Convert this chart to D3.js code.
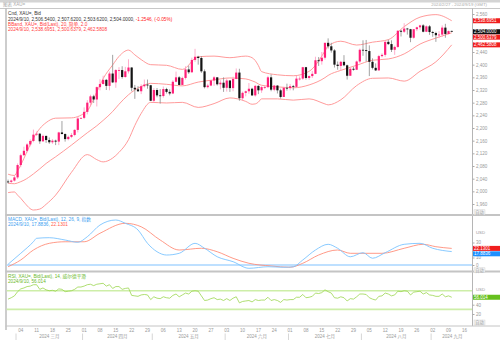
<!DOCTYPE html>
<html><head><meta charset="utf-8">
<script src="https://cdn.jsdelivr.net/npm/d3@7"></script>
<style>
body{margin:0;background:#fff;}
svg{display:block;font-family:"Liberation Sans",Arial,"Noto Sans CJK SC",sans-serif;}
</style></head><body>
<svg id="c" width="500" height="340"></svg>
<script>
// ---------- data ----------
const openP = [2031,2030,2034,2044,2083,2114,2128,2148,2159,2179,2182,2158,2175,2162,2155,2160,2157,2186,2181,2165,2172,2178,2194,2230,2232,2251,2280,2300,2290,2329,2339,2352,2333,2372,2344,2383,2383,2361,2379,2391,2327,2322,2316,2332,2337,2335,2286,2320,2303,2301,2323,2314,2309,2346,2360,2336,2358,2385,2376,2415,2425,2421,2379,2329,2334,2350,2360,2338,2343,2327,2350,2326,2355,2375,2294,2311,2316,2324,2303,2333,2319,2329,2329,2360,2321,2334,2319,2298,2327,2326,2332,2330,2356,2356,2392,2358,2364,2371,2414,2411,2422,2469,2458,2445,2400,2396,2409,2398,2365,2387,2384,2410,2447,2446,2443,2409,2390,2382,2427,2431,2472,2465,2447,2456,2507,2504,2514,2512,2485,2512,2518,2524,2504,2521,2503,2500,2493,2495,2517,2497,2506.54];
const highP = [2037,2037,2052,2088,2119,2141,2152,2164,2195,2189,2184,2179,2176,2170,2165,2163,2188,2222,2183,2176,2184,2196,2236,2233,2265,2288,2305,2305,2331,2354,2365,2355,2378,2431,2386,2392,2395,2393,2417,2392,2336,2332,2338,2353,2353,2336,2326,2326,2323,2331,2327,2322,2351,2378,2364,2362,2395,2397,2422,2450,2428,2427,2385,2340,2351,2364,2360,2351,2360,2355,2351,2362,2388,2387,2315,2318,2342,2327,2336,2335,2332,2334,2365,2369,2336,2335,2324,2330,2340,2339,2336,2365,2363,2393,2393,2366,2380,2425,2424,2440,2469,2483,2469,2449,2410,2412,2430,2400,2390,2393,2413,2451,2477,2478,2461,2420,2404,2431,2436,2474,2479,2477,2460,2509,2510,2531,2516,2513,2512,2520,2526,2528,2524,2525,2507,2504,2506,2524,2529,2508,2507.62];
const lowP = [2025,2025,2031,2039,2076,2113,2123,2142,2155,2175,2150,2156,2153,2150,2150,2146,2146,2180,2157,2161,2168,2174,2186,2229,2228,2243,2269,2279,2268,2319,2337,2320,2319,2342,2327,2355,2356,2359,2372,2316,2292,2314,2307,2328,2324,2285,2280,2297,2277,2296,2309,2303,2307,2344,2335,2335,2353,2371,2374,2409,2400,2374,2325,2325,2332,2333,2334,2322,2314,2315,2314,2316,2354,2286,2287,2300,2308,2301,2299,2307,2311,2323,2326,2316,2316,2309,2293,2298,2318,2319,2319,2327,2350,2352,2353,2352,2358,2370,2396,2400,2416,2451,2438,2391,2384,2383,2395,2353,2365,2381,2383,2405,2428,2410,2364,2385,2380,2381,2423,2425,2462,2440,2431,2453,2489,2500,2495,2471,2482,2506,2510,2502,2503,2494,2488,2472,2484,2488,2485,2496,2503.62];
const closeP = [2030,2034,2044,2083,2114,2128,2148,2159,2179,2182,2158,2175,2162,2155,2160,2157,2186,2181,2165,2172,2178,2194,2230,2232,2251,2280,2300,2290,2329,2339,2352,2333,2372,2344,2383,2383,2361,2379,2391,2327,2322,2316,2332,2337,2335,2286,2320,2303,2301,2323,2314,2309,2346,2360,2336,2358,2385,2376,2415,2425,2421,2379,2329,2334,2350,2360,2338,2343,2327,2350,2326,2355,2375,2294,2311,2316,2324,2303,2333,2319,2329,2329,2360,2321,2334,2319,2298,2327,2326,2332,2330,2356,2356,2392,2358,2364,2371,2414,2411,2422,2469,2458,2445,2400,2396,2409,2398,2365,2387,2384,2410,2447,2446,2443,2409,2390,2382,2427,2431,2472,2465,2447,2456,2507,2504,2514,2512,2485,2512,2518,2524,2504,2521,2503,2500,2493,2495,2517,2497,2506,2504.00];

// Bollinger band (20, 2) values read at sample trading days
const bbDay   = [0,2,3,4,5,8,10,12,15,20,25,28,30,33,35,38,40,42,45,50,55,60,65,70,75,77,78,79,80,85,90,95,100,101,105,110,115,120,125,130,135,140];
const bbUpper = [2054,2050,2065,2083,2104,2168,2198,2217,2231,2232,2255,2314,2356,2399,2426,2446,2431,2416,2400,2398,2385,2425,2427,2422,2427,2422,2413,2397,2378,2368,2365,2379,2443,2459,2474,2462,2471,2479,2520,2550,2558,2538.6951];
const bbMid   = [2025.6,2024,2026.5,2030.5,2035,2055,2071,2088,2109,2146,2185,2207,2224,2252,2275,2305,2320,2331,2341,2338,2333,2345,2352,2358,2355,2349,2345,2339,2335,2330,2327,2336,2359,2366,2382,2398,2414,2418,2434,2465,2484,2500.6379];
const bbLower = [1996,1998,1988,1978,1966,1941,1944,1959,1988,2060,2116,2100,2093,2105,2123,2163,2208,2246,2281,2279,2281,2265,2277,2295,2284,2275,2276,2282,2292,2292,2288,2292,2276,2273,2289,2334,2357,2358,2348,2379,2409,2462.5808];

// MACD (12,26,9)
const macdDay  = [0,4,8,9,13,18,22,25,29,34,37,41,44,47,50,54,59,62,66,71,76,82,87,90,93,97,101,104,108,112,115,119,125,130,134,140];
const macdLine = [1,15.6,31,35.6,36.4,33.3,30.3,37.7,53.3,60,55.6,46.7,28.9,17.7,13.3,15.6,28.9,22.3,11,4.4,-4.4,-2.3,-3,-2.3,6.7,20,27.6,22.3,11,16.4,9,16.4,27.6,28.9,22.3,17.8836];
const sigDay   = [0,4,8,13,18,24,29,37,42,48,54,61,66,71,76,83,89,93,98,104,108,112,118,125,131,135,140];
const sigLine  = [-2.3,6.7,20,28.9,31,31,42.3,55.6,51,33.3,20,22.3,17.7,8.9,2.3,-1.3,-3,2.3,13.3,20,15.6,15.6,15.6,22.3,27.6,24.4,22.1301];

// RSI (14), one per trading day
const rsiVals = [52,55,59,68,74,76,79,80,83,83,73,76,72,70,71,69,74,73,68,69,70,73,78,78,80,83,84,81,84,85,86,80,83,75,79,79,73,75,76,60,59,58,61,62,61,51,57,54,53,57,55,54,60,63,57,61,65,63,69,70,69,59,49,50,53,55,51,52,49,53,49,54,57,44,47,48,49,46,51,49,50,50,56,49,51,49,45,51,50,51,51,56,56,62,55,56,58,65,64,66,72,68,65,55,54,57,55,48,53,52,57,63,63,62,55,52,50,58,59,65,63,59,61,69,68,70,69,61,67,68,69,63,66,61,60,58,58,63,57,59,56.014];

const priceTicks = [1960,2000,2040,2080,2120,2160,2200,2240,2280,2320,2360,2400,2440,2560];
const macdTicks = [0,10,30];
const rsiTicks = [20,40];
const monthNames = ["2024 三月","2024 四月","2024 五月","2024 六月","2024 七月","2024 八月","2024 九月"];

// ---------- layout ----------
const svg = d3.select("#c");
const L = 6.5, R = 472;
const nDays = 148;
const days = [];
{ let d = new Date(2024,1,27); while (days.length < nDays) { const w = d.getDay(); if (w!==0 && w!==6) days.push(new Date(d)); d.setDate(d.getDate()+1); } }

const x = d3.scaleLinear().domain([-0.5, 146.4]).range([L, R]);
const yP = d3.scaleLinear().domain([1960, 2440]).range([204, 52]);
const yM = d3.scaleLinear().domain([0, 60]).range([265, 220]);
const yR = d3.scaleLinear().domain([0, 100]).range([323.3, 276.8]);

const panels = [[9.5,215],[215,271.5],[271.5,326]];
const defs = svg.append("defs");
panels.forEach((p,i)=>defs.append("clipPath").attr("id","cp"+i).append("rect").attr("x",L).attr("y",p[0]).attr("width",R-L).attr("height",p[1]-p[0]));

// frame / background
svg.append("rect").attr("width",500).attr("height",340).attr("fill","#fff");
svg.append("rect").attr("x",0).attr("y",0).attr("width",500).attr("height",2.5).attr("fill","#d4d4d4");
svg.append("text").attr("x",3).attr("y",6).attr("font-size",4.5).attr("fill","#aaa").text("图表 XAU=");
svg.append("text").attr("x",487).attr("y",6.3).attr("text-anchor","end").attr("font-size",4.3).attr("fill","#aaa").text("2024/2/27 - 2024/9/19 (GMT)");
svg.append("line").attr("x1",0).attr("x2",500).attr("y1",8.5).attr("y2",8.5).attr("stroke","#c8c8c8").attr("stroke-width",1);
svg.append("line").attr("x1",L-0.5).attr("x2",L-0.5).attr("y1",8.5).attr("y2",330).attr("stroke","#bdbdbd").attr("stroke-width",1.5);
svg.append("line").attr("x1",R+0.5).attr("x2",R+0.5).attr("y1",8.5).attr("y2",326).attr("stroke","#b5b5b5").attr("stroke-width",1);
[215,271.5].forEach(yy=>svg.append("line").attr("x1",L-1).attr("x2",500).attr("y1",yy).attr("y2",yy).attr("stroke","#c4c4c4").attr("stroke-width",1.8));
svg.append("line").attr("x1",L-1).attr("x2",500).attr("y1",326).attr("y2",326).attr("stroke","#c4c4c4").attr("stroke-width",1);

// ---------- main panel ----------
const gMain = svg.append("g").attr("clip-path","url(#cp0)");
const bandColor = "#ff8f8f";
const bandLine = (arr)=> d3.line().x((d,i)=>x(bbDay[i])).y(d=>yP(d)).curve(d3.curveMonotoneX)(arr);
[bbUpper,bbMid,bbLower].forEach(a=>gMain.append("path").attr("d",bandLine(a)).attr("fill","none").attr("stroke",bandColor).attr("stroke-width",0.9));

const upCol = "#ff1f78", upWick = "#ff99c0", dnCol = "#141414", dnWick = "#8a8a8a";
closeP.forEach((c,i)=>{
  const o = openP[i], up = c >= o;
  gMain.append("line").attr("x1",x(i)).attr("x2",x(i)).attr("y1",yP(highP[i])).attr("y2",yP(lowP[i]))
    .attr("stroke", up?upWick:dnWick).attr("stroke-width",0.8);
  const yt = yP(Math.max(o,c)), yb = yP(Math.min(o,c));
  gMain.append("rect").attr("x",x(i)-1.1).attr("width",2.2).attr("y",yt).attr("height",Math.max(0.8,yb-yt))
    .attr("fill", up?upCol:dnCol);
});

// legend main
const leg = svg.append("g").attr("font-size",4.7);
leg.append("text").attr("x",8).attr("y",15).attr("fill","#333").text("Cnd, XAU=, Bid");
const l2 = leg.append("text").attr("x",8).attr("y",20.5).attr("fill","#333");
l2.append("tspan").text("2024/9/10, 2,506.5400, 2,507.6200, 2,503.6200, 2,504.0000, ");
l2.append("tspan").attr("fill","#ff2020").text("-1.2546, (-0.05%)");
leg.append("text").attr("x",8).attr("y",26).attr("fill","#ff3b3b").text("BBand, XAU=, Bid(Last), 20, 简单, 2.0");
leg.append("text").attr("x",8).attr("y",31.3).attr("fill","#ff3b3b").text("2024/9/10, 2,538.6951, 2,500.6379, 2,462.5808");

// right axis main
const axG = svg.append("g").attr("transform",`translate(${R+0.5},0)`)
  .call(d3.axisRight(yP).tickValues(priceTicks).tickSize(2).tickPadding(1.5).tickFormat(d3.format(",")));
axG.select(".domain").remove();
axG.selectAll("line").attr("stroke","#aaa");
axG.selectAll("text").attr("font-size",4.5).attr("fill","#999").attr("font-family","Liberation Sans, Arial");

// value boxes
function boxes(items){
  items.sort((a,b)=>a.y-b.y);
  for(let i=1;i<items.length;i++) if(items[i].y - items[i-1].y < 5.4) items[i].y = items[i-1].y + 5.4;
  items.forEach(it=>{
    svg.append("rect").attr("x",R+1).attr("y",it.y-2.5).attr("width",27).attr("height",5).attr("fill",it.bg);
    svg.append("text").attr("x",R+2).attr("y",it.y+1.6).attr("font-size",4.5).attr("fill",it.fg||"#fff").text(it.t);
  });
}
boxes([
  {y:yP(2538.6951),bg:"#f01e1e",t:"2,538.6951"},
  {y:yP(2504),bg:"#111",t:"2,504.0000"},
  {y:yP(2500.6379),bg:"#f01e1e",t:"2,500.6379"},
  {y:yP(2462.5808),bg:"#f01e1e",t:"2,462.5808"}
]);

// ---------- MACD panel ----------
const gM = svg.append("g").attr("clip-path","url(#cp1)");
gM.append("line").attr("x1",L).attr("x2",R).attr("y1",yM(0)).attr("y2",yM(0)).attr("stroke","#a9d6ff").attr("stroke-width",1.6);
gM.append("path").attr("d",d3.line().x((d,i)=>x(sigDay[i])).y(d=>yM(d)).curve(d3.curveMonotoneX)(sigLine))
  .attr("fill","none").attr("stroke","#ff8f7a").attr("stroke-width",0.9);
gM.append("path").attr("d",d3.line().x((d,i)=>x(macdDay[i])).y(d=>yM(d)).curve(d3.curveMonotoneX)(macdLine))
  .attr("fill","none").attr("stroke","#7cc4ff").attr("stroke-width",0.9);
const lm = svg.append("g").attr("font-size",4.7);
lm.append("text").attr("x",8).attr("y",220.8).attr("fill","#3ba0f0").text("MACD, XAU=, Bid(Last), 12, 26, 9, 指数");
const lm2 = lm.append("text").attr("x",8).attr("y",226.2).attr("fill","#3ba0f0");
lm2.append("tspan").text("2024/9/10, 17.8836, ");
lm2.append("tspan").attr("fill","#ff5a4a").text("22.1301");
const axM = svg.append("g").attr("transform",`translate(${R+0.5},0)`)
  .call(d3.axisRight(yM).tickValues(macdTicks).tickSize(2).tickPadding(1.5));
axM.select(".domain").remove();
axM.selectAll("line").attr("stroke","#aaa");
axM.selectAll("text").attr("font-size",4.5).attr("fill","#999");
svg.append("text").attr("x",476).attr("y",234.3).attr("font-size",4.3).attr("fill","#999").text("USD");
boxes([{y:yM(22.1301),bg:"#f01e1e",t:"22.1301"},{y:yM(17.8836),bg:"#1e90ff",t:"17.8836"}]);

// ---------- RSI panel ----------
const gR = svg.append("g").attr("clip-path","url(#cp2)");
[70,30].forEach(v=>gR.append("line").attr("x1",L).attr("x2",R).attr("y1",yR(v)).attr("y2",yR(v)).attr("stroke","#cdeea8").attr("stroke-width",1.6));
gR.append("path").attr("d",d3.line().x((d,i)=>x(i)).y(d=>yR(d))(rsiVals))
  .attr("fill","none").attr("stroke","#9ad64e").attr("stroke-width",0.8);
const lr = svg.append("g").attr("font-size",4.7).attr("fill","#6ab82a");
lr.append("text").attr("x",8).attr("y",277.5).text("RSI, XAU=, Bid(Last), 14, 威尔德平滑");
lr.append("text").attr("x",8).attr("y",282.9).text("2024/9/10, 56.014");
const axR = svg.append("g").attr("transform",`translate(${R+0.5},0)`)
  .call(d3.axisRight(yR).tickValues(rsiTicks).tickSize(2).tickPadding(1.5));
axR.select(".domain").remove();
axR.selectAll("line").attr("stroke","#aaa");
axR.selectAll("text").attr("font-size",4.5).attr("fill","#999");
svg.append("text").attr("x",476).attr("y",290.8).attr("font-size",4.3).attr("fill","#999").text("USD");
boxes([{y:yR(56.014),bg:"#66c01e",t:"56.014"}]);

// auto buttons
[212.3,270.3,322.5].forEach(yy=>{
  svg.append("rect").attr("x",474).attr("y",yy-2.5).attr("width",11).attr("height",5).attr("fill","#f2f2f2").attr("stroke","#ccc").attr("stroke-width",0.4);
  svg.append("text").attr("x",479.5).attr("y",yy+1.6).attr("text-anchor","middle").attr("font-size",4.2).attr("fill","#999").text("自动");
});

// ---------- x axis ----------
const xa = svg.append("g").attr("font-size",4.5).attr("fill","#999");
days.forEach((d,i)=>{
  if (d.getDay()===1 && x(i) < R) {
    xa.append("text").attr("x",x(i)).attr("y",332).attr("text-anchor","middle").text(d3.timeFormat("%d")(d));
  }
});
let mStart = 0;
const monthRanges = [];
for (let i=1;i<=days.length;i++){
  if (i===days.length || days[i].getMonth()!==days[i-1].getMonth()){
    monthRanges.push([mStart,i-1]); mStart = i;
  }
}
monthRanges.forEach((r,k)=>{
  if (r[0]>0){
    const sx = (x(r[0]-1)+x(r[0]))/2;
    svg.append("line").attr("x1",sx).attr("x2",sx).attr("y1",333.5).attr("y2",340).attr("stroke","#ccc").attr("stroke-width",0.8);
  }
  if (k>=1 && k-1 < monthNames.length){
    const a = Math.max(L, x(r[0])), b = Math.min(R, x(r[1]));
    xa.append("text").attr("x",(a+b)/2).attr("y",338.3).attr("text-anchor","middle").text(monthNames[k-1]);
  }
});
</script>
</body></html>
